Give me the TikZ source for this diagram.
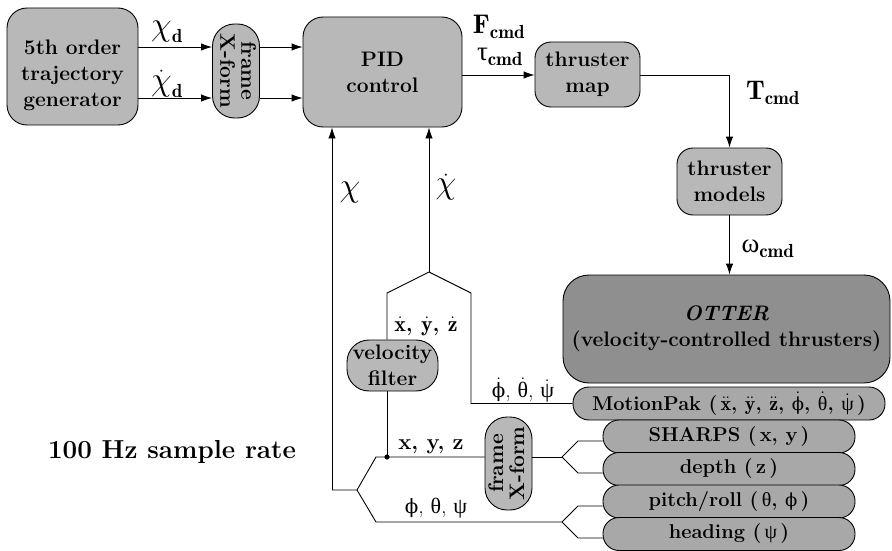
\documentclass[tikz,border=0pt]{standalone}
\usepackage{amsmath}
\usepackage{fontspec}
\usepackage{graphicx}
\usetikzlibrary{arrows.meta}

% Greek letters: upright serif forms, phi in its closed (straight-stroke) form
\newfontfamily\grkfam{Liberation Serif}
\newfontfamily\phifam{DejaVu Serif}
\newcommand\gk{\grkfam\mdseries}
\makeatletter
\newcommand\gphi{{\phifam\mdseries\fontsize{\dimexpr0.9\dimexpr\f@size pt\relax\relax}{0pt}\selectfont ϕ}}
\makeatother
\newcommand\gr[1]{\text{\gk #1}}
\newcommand\dgr[1]{\dot{\text{\gk #1}}}
\newcommand\dphi{\dot{\text{\gphi}}}
\newcommand\bchi{\text{\scalebox{1.35}{$\chi$}}}

\definecolor{boxfill}{gray}{0.72}
\definecolor{sensorfill}{gray}{0.66}
\definecolor{otterfill}{gray}{0.56}

\newcommand\bxfont{\fontsize{21}{26}\selectfont\bfseries}
\newcommand\lblfont{\fontsize{27}{34}\selectfont}
\newcommand\smlfont{\fontsize{22}{26}\selectfont}
\newcommand\vtext[1]{\rotatebox{#1}{\begin{tabular}{@{}c@{}}frame\\[-5pt]X-form\end{tabular}}}

\tikzset{
  box/.style={draw=black, line width=0.9pt, fill=boxfill, rounded corners=18pt,
    inner sep=0pt, align=center, font=\bxfont},
  capsule/.style={box, rounded corners=22pt, minimum width=46pt, minimum height=94pt},
  sensor/.style={box, fill=sensorfill, rounded corners=16pt, minimum height=33pt,
    font=\fontsize{20}{24}\selectfont\bfseries},
  arr/.style={-{Latex[length=11pt,width=7.5pt]}},
  lbl/.style={inner sep=0pt, font=\lblfont},
  sml/.style={inner sep=0pt, font=\smlfont},
}

\begin{document}
\begin{tikzpicture}[x=1pt, y=-1pt, line width=0.9pt]
\useasboundingbox (0,0) rectangle (892,551);

% ---- forward path blocks
\node[box, minimum width=131pt, minimum height=117pt, rounded corners=20pt] (gen) at (72.5,66.5) {};
\node[inner sep=0pt, align=center, font=\bxfont] (gentxt) at (72.5,75) {5th order\\trajectory\\generator};
\node[capsule] (fr1) at (236,71) {\vtext{-90}};
\node[box, minimum width=159pt, minimum height=110pt, rounded corners=20pt] (pid) at (382.5,72) {PID\\control};
\node[box, minimum width=105pt, minimum height=65pt, rounded corners=16pt] (tmap) at (587.5,74.5) {thruster\\map};
\node[box, minimum width=105pt, minimum height=67pt, rounded corners=16pt] (tmod) at (729.5,181.5) {thruster\\models};

% ---- vehicle and its sensors
\node[box, fill=otterfill, minimum width=327pt, minimum height=108pt, rounded corners=26pt] (otter) at (726.5,329)
  {\textit{OTTER}\\(velocity-controlled thrusters)};
\node[sensor, minimum width=312pt] (mpak) at (729,403.5)
  {MotionPak (\,$\ddot{\mathbf{x}}$, $\ddot{\mathbf{y}}$, $\ddot{\mathbf{z}}$, $\dphi$, $\dgr{θ}$, $\dgr{ψ}$\,)};
\node[sensor, minimum width=252pt] (sharps) at (729,436.5) {SHARPS (\,x, y\,)};
\node[sensor, minimum width=252pt] (depth) at (729,469) {depth (\,z\,)};
\node[sensor, minimum width=252pt] (pitch) at (729,501.5) {pitch/roll (\,{\gk θ}, \gphi\,)};
\node[sensor, minimum width=252pt] (heading) at (729,534) {heading (\,{\gk ψ}\,)};

% ---- feedback processing blocks
\node[box, minimum width=91pt, minimum height=51pt, rounded corners=22pt] (vfilt) at (392.5,365.5) {velocity\\filter};
\node[capsule, minimum height=93pt] (fr2) at (508.5,463.5) {\vtext{90}};

% ---- routing levels and bend points
\coordinate (lvA) at (0,47);
\coordinate (lvB) at (0,98);
\coordinate (lvC) at (0,75);
\coordinate (apex) at (429,272);
\coordinate (rb) at (471,293);
\coordinate (lb) at (387,293);
\coordinate (dot) at (387,457);
\coordinate (fu) at (376,457);
\coordinate (ftip) at (357,490);
\coordinate (chib) at (332,490);
\coordinate (fl) at (376,522);
\coordinate (stip) at (562,457);
\coordinate (su) at (578,441);
\coordinate (sl) at (578,473);
\coordinate (ptip) at (562,522);
\coordinate (pu) at (578,506);
\coordinate (pl) at (578,538);

% ---- forward connectors
\draw[arr] (gen.east |- lvA) -- (fr1.west |- lvA);
\draw[arr] (gen.east |- lvB) -- (fr1.west |- lvB);
\draw[arr] (fr1.east |- lvA) -- (pid.west |- lvA);
\draw[arr] (fr1.east |- lvB) -- (pid.west |- lvB);
\draw[arr] (pid.east |- lvC) -- (tmap.west |- lvC);
\draw[arr] (tmap.east |- lvC) -| (tmod.north);
\draw[arr] (tmod.south) -- (tmod.south |- otter.north);

% ---- feedback connectors
\draw (mpak.west) -| (rb) -- (apex) -- (lb) -- (vfilt.north -| lb);
\draw[arr] (apex) -- (apex |- pid.south);
\draw (vfilt.south -| dot) -- (dot);
\fill (dot) circle (2.6pt);
\draw (fr2.west |- dot) -- (fu) -- (ftip) -- (chib);
\draw[arr] (chib) -- (chib |- pid.south);
\draw (ftip) -- (fl) -- (ptip);
\draw (fr2.east |- dot) -- (stip);
\draw (stip) -- (su) -- (su -| sharps.west);
\draw (stip) -- (sl) -- (sl -| depth.west);
\draw (ptip) -- (pu) -- (pu -| pitch.west);
\draw (ptip) -- (pl) -- (pl -| heading.west);

% ---- signal labels
\node[lbl] (lchid) at (167,32) {$\bchi_{\mathbf{d}}$};
\node[lbl] (ldchid) at (167,84) {$\dot{\bchi}_{\mathbf{d}}$};
\node[lbl] (lF) at (499,27) {$\mathbf{F}_{\mathbf{cmd}}$};
\node[lbl] (ltau) at (500,57) {$\gr{τ}_{\mathbf{cmd}}$};
\node[lbl] (lT) at (773,93) {$\mathbf{T}_{\mathbf{cmd}}$};
\node[lbl] (lw) at (768,249) {$\gr{ω}_{\mathbf{cmd}}$};
\node[lbl] (lchi) at (350,193) {$\bchi$};
\node[lbl] (ldchi) at (446,187) {$\dot{\bchi}$};
\node[sml, font=\smlfont\bfseries] (lvel) at (426,326) {$\dot{\mathbf{x}}$, $\dot{\mathbf{y}}$, $\dot{\mathbf{z}}$};
\node[sml] (lrate) at (523,390) {$\dphi$, $\dgr{θ}$, $\dgr{ψ}$};
\node[sml, font=\smlfont\bfseries] (lpos) at (431,447) {x, y, z};
\node[sml] (lang) at (436,508) {\gphi, {\gk θ}, {\gk ψ}};
\node[inner sep=0pt, font=\fontsize{26}{30}\selectfont\bfseries] (lhz) at (172,452) {100 Hz sample rate};
\end{tikzpicture}
\end{document}
